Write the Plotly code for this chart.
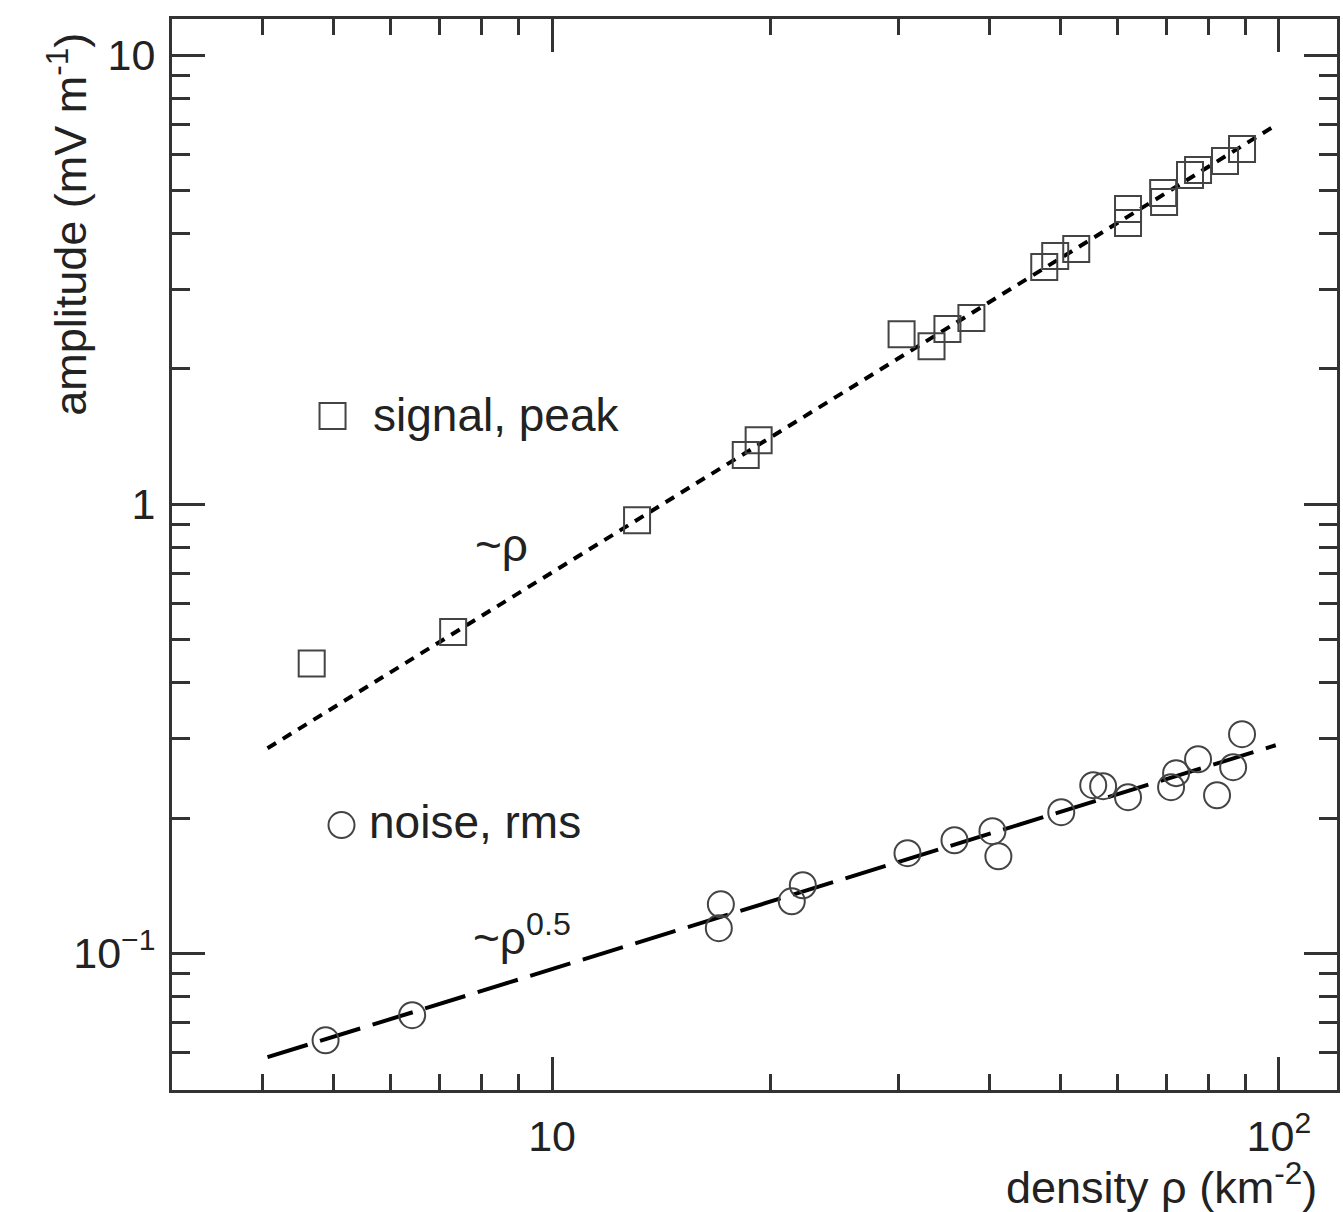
import math
import plotly.graph_objects as go

# ---------------- data ----------------
signal_density = [4.67, 7.31, 13.09, 18.47, 19.24, 30.26, 33.27, 34.99, 37.75, 47.55,
                  49.23, 52.62, 62.0, 62.0, 69.3, 69.5, 75.45, 77.4, 84.3, 88.97]
signal_amp = [0.442, 0.519, 0.921, 1.286, 1.388, 2.391, 2.248, 2.454, 2.596, 3.372,
              3.567, 3.698, 4.539, 4.225, 4.928, 4.706, 5.404, 5.544, 5.806, 6.174]

noise_density = [4.88, 6.42, 16.96, 17.07, 21.37, 22.13, 30.83, 35.78, 40.35, 41.12,
                 50.18, 55.53, 57.3, 62.0, 71.06, 72.2, 77.4, 82.2, 86.5, 88.97]
noise_amp = [0.0640, 0.0728, 0.1137, 0.1285, 0.1305, 0.1417, 0.1670, 0.1785, 0.1870, 0.1644,
             0.2061, 0.2367, 0.2355, 0.2226, 0.2343, 0.2518, 0.2704, 0.2248, 0.2596, 0.3074]

fit_density = [4.06, 99.0]
signal_fit = [0.286, 6.98]     # ~rho
noise_fit = [0.0587, 0.2905]   # ~rho^0.5

x_tickvals = [10, 100]
x_ticktext = ["10", "10<sup>2</sup>"]
y_tickvals = [0.1, 1, 10]
y_ticktext = ["10<sup>\u22121</sup>", "1", "10"]
x_minor = [4, 5, 6, 7, 8, 9, 20, 30, 40, 50, 60, 70, 80, 90]
y_minor = [0.06, 0.07, 0.08, 0.09, 0.2, 0.3, 0.4, 0.5, 0.6, 0.7, 0.8, 0.9,
           2, 3, 4, 5, 6, 7, 8, 9]

FONT = "Liberation Sans, Arial, Helvetica, sans-serif"
INK = "#222222"
MARK = "#444444"

fig = go.Figure()

fig.add_trace(go.Scatter(
    x=fit_density, y=signal_fit, mode="lines", showlegend=False,
    line=dict(color="black", width=4, dash="10px,8px"), hoverinfo="skip"))
fig.add_trace(go.Scatter(
    x=fit_density, y=noise_fit, mode="lines", showlegend=False,
    line=dict(color="black", width=4, dash="42px,13px"), hoverinfo="skip"))

fig.add_trace(go.Scatter(
    x=signal_density, y=signal_amp, mode="markers", name="signal, peak", showlegend=False,
    marker=dict(symbol="square-open", size=26, color=MARK, line=dict(width=2, color=MARK))))
fig.add_trace(go.Scatter(
    x=noise_density, y=noise_amp, mode="markers", name="noise, rms", showlegend=False,
    marker=dict(symbol="circle-open", size=26, color=MARK, line=dict(width=2, color=MARK))))

axis_common = dict(
    type="log", showgrid=False, zeroline=False,
    showline=True, linecolor="#333333", linewidth=3, mirror="allticks",
    ticks="inside", ticklen=33, tickwidth=2.5, tickcolor="#333333",
    tickfont=dict(family=FONT, size=43, color=INK),
)

fig.update_xaxes(
    **axis_common,
    range=[math.log10(3.0), math.log10(120.2)],
    tickmode="array", tickvals=x_tickvals, ticktext=x_ticktext,
    ticklabelstandoff=6,
    minor=dict(tickmode="array", tickvals=x_minor, ticks="inside", ticklen=16,
               tickwidth=2.5, tickcolor="#333333"),
)
fig.update_yaxes(
    **axis_common,
    range=[math.log10(0.0496), math.log10(12.03)],
    tickmode="array", tickvals=y_tickvals, ticktext=y_ticktext,
    ticklabelstandoff=5,
    minor=dict(tickmode="array", tickvals=y_minor, ticks="inside", ticklen=18,
               tickwidth=2.5, tickcolor="#333333"),
)

# legend-like markers (pixel sized shapes placed in paper coordinates)
fig.add_shape(type="rect", xref="paper", yref="paper", xsizemode="pixel", ysizemode="pixel",
              xanchor=0.1378, yanchor=0.6293, x0=-13, x1=13, y0=-13, y1=13,
              line=dict(color=MARK, width=2))
fig.add_shape(type="circle", xref="paper", yref="paper", xsizemode="pixel", ysizemode="pixel",
              xanchor=0.1455, yanchor=0.2474, x0=-13, x1=13, y0=-13, y1=13,
              line=dict(color=MARK, width=2))

ann_font = dict(family=FONT, size=46, color=INK)
annotations = [
    dict(text="signal, peak", x=0.1712, y=0.630, xanchor="left", yanchor="middle", font=ann_font),
    dict(text="noise, rms", x=0.167, y=0.2502, xanchor="left", yanchor="middle", font=ann_font),
    dict(text="~\u03c1", x=0.2825, y=0.509, xanchor="center", yanchor="middle", font=ann_font),
    dict(text="~\u03c1<sup>0.5</sup>", x=0.2568, y=0.1447, xanchor="left", yanchor="middle", font=ann_font),
    dict(text="amplitude (mV m<sup>-1</sup>)", x=-0.0900, y=0.808, xanchor="center", yanchor="middle",
         textangle=-90, font=dict(family=FONT, size=45, color=INK)),
    dict(text="density \u03c1 (km<sup>-2</sup>)", x=0.9846, y=-0.0875, xanchor="right", yanchor="middle",
         font=dict(family=FONT, size=45, color=INK)),
]
for a in annotations:
    fig.add_annotation(xref="paper", yref="paper", showarrow=False, **a)

fig.update_layout(
    width=1343, height=1212,
    margin=dict(l=172, r=3, t=19, b=122),
    paper_bgcolor="white", plot_bgcolor="white",
    showlegend=False,
)

fig.write_html("out.html")
